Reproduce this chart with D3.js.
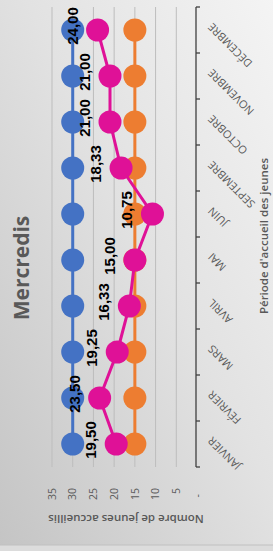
<!DOCTYPE html>
<html>
<head>
<meta charset="UTF-8" />
<title>Mercredis</title>
<script src="https://d3js.org/d3.v7.min.js"></script>
<style>
body { margin: 0; overflow: hidden; }
text { font-family: "Open Sans", "DejaVu Sans", sans-serif; }
.tick-label { font-size: 10.5px; fill: #595959; }
.cat-label { font-size: 11px; fill: #595959; }
.axis-title { font-size: 11.5px; font-weight: 600; fill: #595959; }
.data-label { font-family: "Liberation Sans", Arial, sans-serif; font-size: 15px; font-weight: bold; fill: #000; }
</style>
</head>
<body>
<div id="chart"></div>
<script>
var months = ['JANVIER', 'FÉVRIER', 'MARS', 'AVRIL', 'MAI', 'JUIN', 'SEPTEMBRE', 'OCTOBRE', 'NOVEMBRE', 'DÉCEMBRE'];
var capacite = [30, 30, 30, 30, 30, 30, 30, 30, 30, 30];
var seuil = [15, 15, 15, 15, 15, 15, 15, 15, 15, 15];
var accueillis = [19.5, 23.5, 19.25, 16.33, 15, 10.75, 18.33, 21, 21, 24];
var valueTicks = [0, 5, 10, 15, 20, 25, 30, 35];

var W = 273, H = 551;

var svg = d3.select('#chart').append('svg')
    .attr('width', W)
    .attr('height', H);

// background gradient
var grad = svg.append('defs').append('linearGradient')
    .attr('id', 'bg')
    .attr('x1', '0%').attr('y1', '100%')
    .attr('x2', '100%').attr('y2', '0%');
grad.append('stop').attr('offset', '0%').attr('stop-color', '#c4c4c4');
grad.append('stop').attr('offset', '55%').attr('stop-color', '#e2e2e2');
grad.append('stop').attr('offset', '100%').attr('stop-color', '#f4f4f4');

svg.append('rect').attr('width', W).attr('height', H).attr('fill', 'url(#bg)');
svg.append('rect').attr('y', 545).attr('width', W).attr('height', 6).attr('fill', '#dcdcdc');
svg.append('line').attr('x1', 0).attr('x2', W).attr('y1', 545).attr('y2', 545)
    .attr('stroke', '#c0c0c0');

// chart is drawn in its own frame and turned a quarter turn
var g = svg.append('g')
    .attr('transform', 'translate(0,' + H + ') rotate(-90)');

var x = d3.scaleBand().domain(months).range([84, 544]);
var y = d3.scaleLinear().domain([0, 35]).range([197, 52]);

// gridlines
g.selectAll('.grid')
    .data(valueTicks.filter(function(d) { return d > 0; }))
    .enter().append('line')
    .attr('x1', 84).attr('x2', 544)
    .attr('y1', function(d) { return y(d); })
    .attr('y2', function(d) { return y(d); })
    .attr('stroke', '#bdbdbd')
    .attr('stroke-width', 1);

// value tick labels
g.selectAll('.tick-label')
    .data(valueTicks)
    .enter().append('text')
    .attr('class', 'tick-label')
    .attr('x', function(d) { return d === 0 ? 57 : 63; })
    .attr('y', function(d) { return y(d); })
    .attr('dy', '0.35em')
    .attr('text-anchor', 'end')
    .text(function(d) { return d === 0 ? '-' : d; });

// category axis
var axisY = y(0) - 1;
g.append('line')
    .attr('x1', 84).attr('x2', 544)
    .attr('y1', axisY).attr('y2', axisY)
    .attr('stroke', '#404040').attr('stroke-width', 1.3);

var bounds = months.map(function(m) { return x(m); }).concat([x(months[months.length - 1]) + x.bandwidth()]);
g.selectAll('.cat-tick')
    .data(bounds)
    .enter().append('line')
    .attr('x1', function(d) { return d; })
    .attr('x2', function(d) { return d; })
    .attr('y1', axisY).attr('y2', axisY + 4)
    .attr('stroke', '#404040').attr('stroke-width', 1.3);

g.selectAll('.cat-label')
    .data(months)
    .enter().append('text')
    .attr('class', 'cat-label')
    .attr('text-anchor', 'end')
    .attr('transform', function(d) {
        return 'translate(' + (x(d) + x.bandwidth() / 2 + 5) + ',' + (axisY + 14) + ') rotate(-45)';
    })
    .attr('dy', '0.35em')
    .text(function(d) { return d; });

// series
var line = d3.line()
    .x(function(d, i) { return x(months[i]) + x.bandwidth() / 2; })
    .y(function(d) { return y(d); });

function drawSeries(values, color) {
    g.append('path')
        .datum(values)
        .attr('d', line)
        .attr('fill', 'none')
        .attr('stroke', color)
        .attr('stroke-width', 3);
    g.selectAll(null)
        .data(values)
        .enter().append('circle')
        .attr('cx', function(d, i) { return x(months[i]) + x.bandwidth() / 2; })
        .attr('cy', function(d) { return y(d); })
        .attr('r', 11.5)
        .attr('fill', color);
}

drawSeries(capacite, '#4472c4');
drawSeries(seuil, '#ed7d31');
drawSeries(accueillis, '#df1197');

// data labels
var fmt = d3.format('.2f');
g.selectAll('.data-label')
    .data(accueillis)
    .enter().append('text')
    .attr('class', 'data-label')
    .attr('text-anchor', 'middle')
    .attr('x', function(d, i) { return x(months[i]) + x.bandwidth() / 2 + 4; })
    .attr('y', function(d) { return y(d) - 20; })
    .text(function(d) { return fmt(d).replace('.', ','); });

// titles
g.append('text')
    .attr('x', 283).attr('y', 28.5)
    .attr('text-anchor', 'middle')
    .style('font-size', '21px')
    .style('font-weight', 'bold')
    .style('fill', '#595959')
    .text('Mercredis');

g.append('text')
    .attr('class', 'axis-title')
    .attr('text-anchor', 'middle')
    .attr('transform', 'translate(36,' + 126 + ') rotate(-90)')
    .text('Nombre de jeunes accueillis');

g.append('text')
    .attr('class', 'axis-title')
    .attr('text-anchor', 'middle')
    .attr('x', 315).attr('y', 268)
    .text('Période d\'accueil des jeunes');
</script>
</body>
</html>
